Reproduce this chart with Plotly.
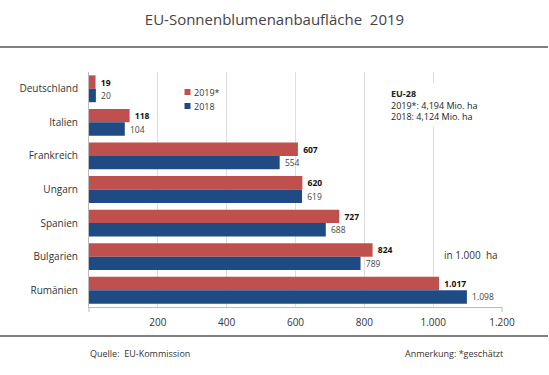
import plotly.graph_objects as go

countries = ["Deutschland", "Italien", "Frankreich", "Ungarn", "Spanien", "Bulgarien", "Rumänien"]
v2019 = [19, 118, 607, 620, 727, 824, 1017]
v2018 = [20, 104, 554, 619, 688, 789, 1098]
series_names = ["2019*", "2018"]
x_ticks = [200, 400, 600, 800, 1000, 1200]

RED = "#C0504D"
BLUE = "#1F4B85"
FONT = "Open Sans, DejaVu Sans, sans-serif"

# plot area in pixels
L, R, T, B = 89, 47, 72, 68
W, H = 549, 375
pw, ph = W - L - R, H - T - B

def px_x(p):
    return (p - L) / pw

def px_y(p):
    return (H - B - p) / ph

fig = go.Figure()
fig.add_trace(go.Bar(
    y=countries, x=v2019, orientation="h", name=series_names[0],
    marker=dict(color=RED, line=dict(width=0)),
    texttemplate="\u00a0<b>%{x:,}</b>", textposition="outside",
    textfont=dict(family=FONT, size=8.5, color="#111"),
    constraintext="none", cliponaxis=False, showlegend=False,
))
fig.add_trace(go.Bar(
    y=countries, x=v2018, orientation="h", name=series_names[1],
    marker=dict(color=BLUE, line=dict(width=0)),
    texttemplate="\u00a0%{x:,}", textposition="outside",
    textfont=dict(family=FONT, size=8.5, color="#444"),
    constraintext="none", cliponaxis=False, showlegend=False,
))

shapes = []
annotations = []
# horizontal rules
for yp in (47, 336):
    shapes.append(dict(type="line", xref="paper", yref="paper",
                       x0=px_x(0), x1=px_x(548), y0=px_y(yp), y1=px_y(yp),
                       line=dict(color="#808080", width=2)))
# end ticks on x axis
for xp in (89, 502):
    shapes.append(dict(type="line", xref="paper", yref="paper",
                       x0=px_x(xp), x1=px_x(xp), y0=px_y(307), y1=px_y(312),
                       line=dict(color="#BBBBBB", width=1)))

# manual legend
for i, (name, col) in enumerate(zip(series_names, [RED, BLUE])):
    yc = 92 + 14 * i
    shapes.append(dict(type="rect", xref="paper", yref="paper",
                       x0=px_x(184.5), x1=px_x(190.5), y0=px_y(yc - 3), y1=px_y(yc + 3),
                       fillcolor=col, line=dict(width=0)))
    annotations.append(dict(text=name, xref="paper", yref="paper", x=px_x(192), y=px_y(yc),
                            xanchor="left", yanchor="middle", showarrow=False,
                            font=dict(family=FONT, size=9, color="#333")))

annotations.append(dict(
    text="<b>EU-28</b><br>2019*: 4,194 Mio. ha<br>2018: 4,124 Mio. ha",
    xref="paper", yref="paper", x=px_x(387), y=px_y(105), xanchor="left", yanchor="middle",
    align="left", showarrow=False, bgcolor="white", borderpad=3,
    font=dict(family=FONT, size=9, color="#222")))
annotations.append(dict(
    text="in 1.000\u00a0 ha", xref="paper", yref="paper", x=px_x(442), y=px_y(255),
    xanchor="left", yanchor="middle", showarrow=False,
    font=dict(family=FONT, size=10, color="#333")))
annotations.append(dict(
    text="Quelle:\u00a0 EU-Kommission", xref="paper", yref="paper", x=px_x(88), y=px_y(353),
    xanchor="left", yanchor="middle", showarrow=False,
    font=dict(family=FONT, size=9, color="#333")))
annotations.append(dict(
    text="Anmerkung: *geschätzt", xref="paper", yref="paper", x=px_x(505), y=px_y(353),
    xanchor="right", yanchor="middle", showarrow=False,
    font=dict(family=FONT, size=9, color="#333")))

fig.update_layout(
    width=W, height=H, autosize=False,
    margin=dict(l=L, r=R, t=T, b=B, pad=0),
    paper_bgcolor="white", plot_bgcolor="white",
    barmode="group", bargap=0.2, bargroupgap=0,
    separators=",.",
    title=dict(text="EU-Sonnenblumenanbaufläche\u00a0 2019", x=0.5, xanchor="center",
               y=1 - 20 / H, yanchor="middle", yref="container",
               font=dict(family=FONT, size=15, color="#444")),
    xaxis=dict(range=[0, 1200], tickvals=x_ticks, tickformat=",",
               showgrid=True, gridcolor="#DDDDDD", gridwidth=1,
               showline=True, linecolor="#BBBBBB", linewidth=1,
               zeroline=False, ticks="", ticklabelstandoff=6, automargin=False,
               tickfont=dict(family=FONT, size=10, color="#333"), fixedrange=True),
    yaxis=dict(autorange="reversed", showline=True, linecolor="#BBBBBB", linewidth=1,
               ticks="", ticklabelstandoff=8, automargin=False,
               tickfont=dict(family=FONT, size=10, color="#333"), fixedrange=True),
    shapes=shapes, annotations=annotations, showlegend=False,
)

fig.write_html("out.html", config={"displayModeBar": False},
               post_script="document.body.style.margin='0';document.body.style.overflow='hidden';")
